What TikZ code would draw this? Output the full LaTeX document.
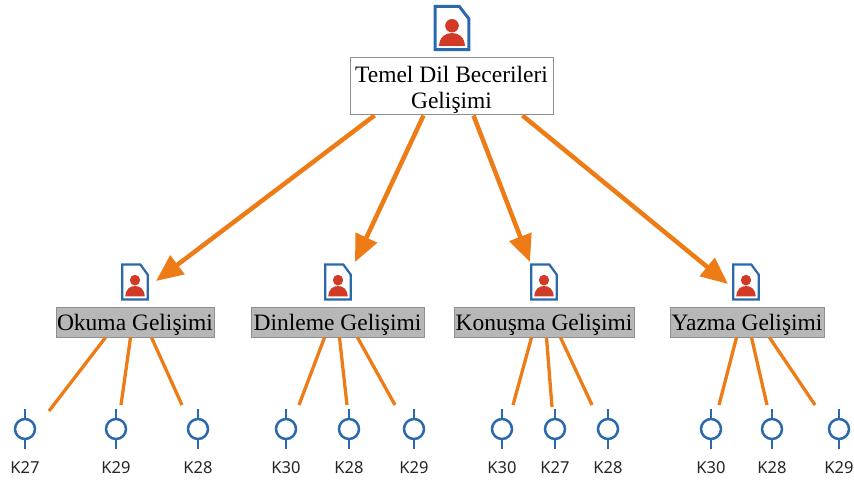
\documentclass[tikz,border=0pt]{standalone}
\usepackage{fontspec}
\setmainfont{Liberation Serif}
\newfontfamily\lblfont{Noto Sans}
\usetikzlibrary{arrows.meta}
\definecolor{arrorange}{HTML}{EE7C16}
\definecolor{iconblue}{HTML}{2A69AC}
\definecolor{iconred}{HTML}{D23A26}
\definecolor{boxgrey}{HTML}{B7B7B7}
\definecolor{edgegrey}{HTML}{8E8E8E}
\tikzset{
  rootbox/.style={draw=edgegrey,line width=1pt,fill=white,align=center,font=\fontsize{23.5}{26}\selectfont,minimum width=203pt,minimum height=57pt,inner sep=0pt},
  childbox/.style={draw=edgegrey,line width=1pt,fill=boxgrey,font=\fontsize{23.5}{27}\selectfont,minimum height=30pt,inner sep=0pt,text height=17pt,text depth=1pt},
  bigarrow/.style={draw=arrorange,line width=4.5pt,-{Triangle[length=27pt,width=23pt,fill=arrorange]}},
  thinline/.style={draw=arrorange,line width=3.3pt},
  kring/.style={circle,draw=iconblue,line width=2.5pt,minimum size=20pt,inner sep=0pt},
  kstem/.style={draw=iconblue,line width=2.5pt},
  klabel/.style={font=\lblfont\fontsize{16.5}{18}\selectfont,text=black!85,inner sep=0pt},
  pics/docicon/.style 2 args={code={
    \begin{scope}[x=#1pt,y=#2pt]
    \draw[iconblue,line width={#1/12*1pt},fill=white,line join=miter] (-.47,-.47)--(-.47,.47)--(.2,.47)--(.47,.2)--(.47,-.47)--cycle;
    \fill[iconred] (0,.05) circle[x radius=.19,y radius=.145];
    \fill[iconred] (-.36,-.39) .. controls (-.34,-.18) and (-.18,-.11) .. (0,-.11) .. controls (.18,-.11) and (.34,-.18) .. (.36,-.39) -- cycle;
    \end{scope}
  }},
}
\begin{document}
\begin{tikzpicture}[x=1pt,y=-1pt]
\useasboundingbox (0,0) rectangle (854,481);
\pic (rooticon) at (452,28) {docicon={36}{46}};
\node[rootbox] (root) at (451.5,86.5) {\rule{0pt}{23pt}Temel Dil Becerileri\\Gelişimi};
\foreach \nm/\cx/\lft/\wid/\txt in {a/135/56/158/Okuma Gelişimi,b/338/251/173/Dinleme Gelişimi,c/544/454/180/Konuşma Gelişimi,d/746/670/154/Yazma Gelişimi}{
  \pic (icon\nm) at (\cx,282) {docicon={27}{37}};
  \node[childbox,minimum width=\wid pt] (\nm) at ({\lft+\wid/2},322) {\txt};
}
% K markers
\foreach \nm/\cx/\txt in {a1/25/K27,a2/116/K29,a3/198/K28,b1/286/K30,b2/349/K28,b3/414/K29,c1/502/K30,c2/555/K27,c3/608/K28,d1/711/K30,d2/772/K28,d3/839/K29}{
  \node[kring] (k\nm) at (\cx,429) {};
  \coordinate (kt\nm) at (\cx,409);
  \coordinate (kb\nm) at (\cx,449);
  \draw[kstem] (k\nm.north) -- (kt\nm);
  \draw[kstem] (k\nm.south) -- (kb\nm);
  \node[klabel] (l\nm) at (\cx,468) {\txt};
}
% free ends of the connectors
\coordinate (ta) at (156,281);
\coordinate (tb) at (355,262);
\coordinate (tc) at (530,262);
\coordinate (td) at (728,284);
\draw[bigarrow] ([xshift=25pt]root.south west) -- (ta);
\draw[bigarrow] ([xshift=74pt]root.south west) -- (tb);
\draw[bigarrow] ([xshift=124pt]root.south west) -- (tc);
\draw[bigarrow] ([xshift=173pt]root.south west) -- (td);
\foreach \nm/\off/\ex/\ey in {a/50/49/411,a/75/121/405,a/96/182/405,
  b/74/299/405,b/89/347/405,b/107/395/405,
  c/78/513/405,c/93/552/407,c/107/592/405,
  d/67/719/405,d/82/767/405,d/100/815/405}{
  \coordinate (e) at (\ex,\ey);
  \draw[thinline] ([xshift=\off pt]\nm.south west) -- (e);
}
\end{tikzpicture}
\end{document}
